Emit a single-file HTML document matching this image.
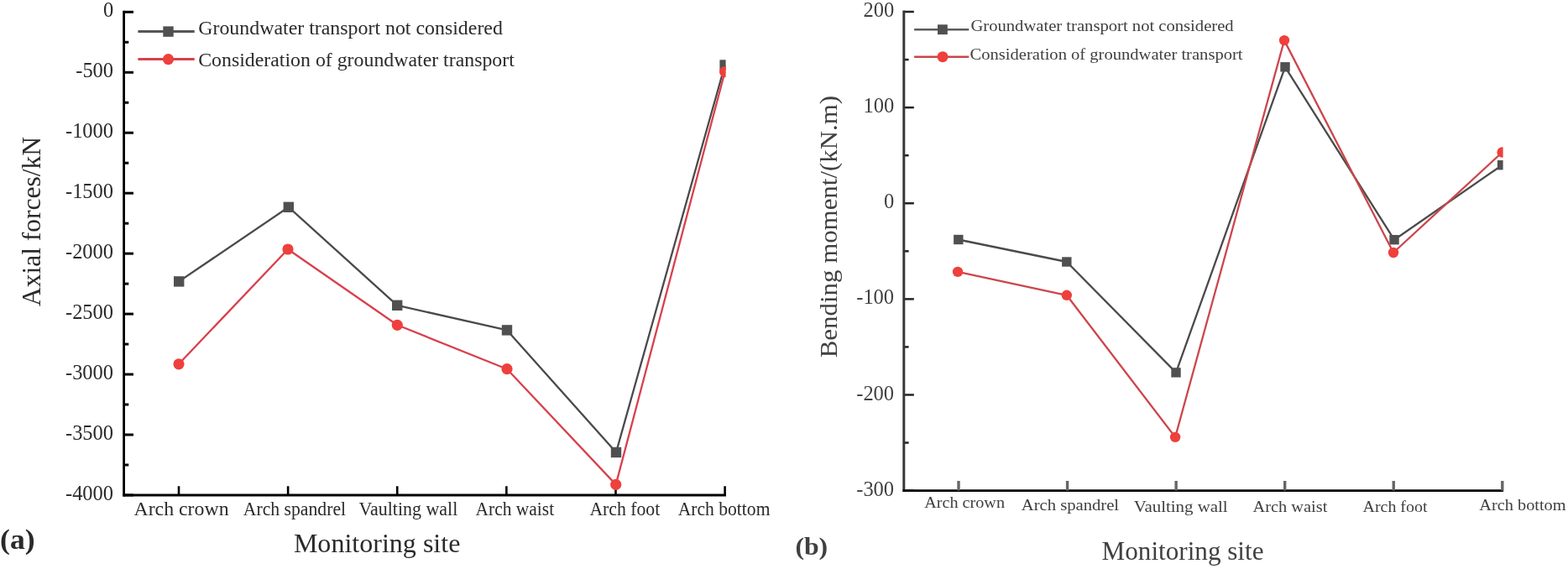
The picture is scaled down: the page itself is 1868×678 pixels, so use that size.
<!DOCTYPE html>
<html><head><meta charset="utf-8"><title>Axial forces and bending moment</title>
<style>html,body{margin:0;padding:0;background:#fff;}svg{display:block;filter:blur(0.55px);}</style></head>
<body><svg width="1868" height="678" viewBox="0 0 1868 678" font-family='"Liberation Serif","Times New Roman",serif'>
<rect width="1868" height="678" fill="#fff"/>
<line x1="147.60" y1="14.30" x2="159.00" y2="14.30" stroke="#000" stroke-width="3" stroke-linecap="butt"/>
<text x="122.88" y="20.32" font-size="24.5" fill="#2a2a2a" textLength="12.25" lengthAdjust="spacingAndGlyphs">0</text>
<line x1="147.60" y1="50.28" x2="153.30" y2="50.28" stroke="#000" stroke-width="3" stroke-linecap="butt"/>
<line x1="147.60" y1="86.26" x2="159.00" y2="86.26" stroke="#000" stroke-width="3" stroke-linecap="butt"/>
<text x="90.22" y="92.28" font-size="24.5" fill="#2a2a2a" textLength="44.91" lengthAdjust="spacingAndGlyphs">-500</text>
<line x1="147.60" y1="122.24" x2="153.30" y2="122.24" stroke="#000" stroke-width="3" stroke-linecap="butt"/>
<line x1="147.60" y1="158.22" x2="159.00" y2="158.22" stroke="#000" stroke-width="3" stroke-linecap="butt"/>
<text x="77.97" y="164.24" font-size="24.5" fill="#2a2a2a" textLength="57.16" lengthAdjust="spacingAndGlyphs">-1000</text>
<line x1="147.60" y1="194.20" x2="153.30" y2="194.20" stroke="#000" stroke-width="3" stroke-linecap="butt"/>
<line x1="147.60" y1="230.18" x2="159.00" y2="230.18" stroke="#000" stroke-width="3" stroke-linecap="butt"/>
<text x="77.97" y="236.20" font-size="24.5" fill="#2a2a2a" textLength="57.16" lengthAdjust="spacingAndGlyphs">-1500</text>
<line x1="147.60" y1="266.16" x2="153.30" y2="266.16" stroke="#000" stroke-width="3" stroke-linecap="butt"/>
<line x1="147.60" y1="302.14" x2="159.00" y2="302.14" stroke="#000" stroke-width="3" stroke-linecap="butt"/>
<text x="77.97" y="308.16" font-size="24.5" fill="#2a2a2a" textLength="57.16" lengthAdjust="spacingAndGlyphs">-2000</text>
<line x1="147.60" y1="338.12" x2="153.30" y2="338.12" stroke="#000" stroke-width="3" stroke-linecap="butt"/>
<line x1="147.60" y1="374.10" x2="159.00" y2="374.10" stroke="#000" stroke-width="3" stroke-linecap="butt"/>
<text x="77.97" y="380.12" font-size="24.5" fill="#2a2a2a" textLength="57.16" lengthAdjust="spacingAndGlyphs">-2500</text>
<line x1="147.60" y1="410.08" x2="153.30" y2="410.08" stroke="#000" stroke-width="3" stroke-linecap="butt"/>
<line x1="147.60" y1="446.06" x2="159.00" y2="446.06" stroke="#000" stroke-width="3" stroke-linecap="butt"/>
<text x="77.97" y="452.08" font-size="24.5" fill="#2a2a2a" textLength="57.16" lengthAdjust="spacingAndGlyphs">-3000</text>
<line x1="147.60" y1="482.04" x2="153.30" y2="482.04" stroke="#000" stroke-width="3" stroke-linecap="butt"/>
<line x1="147.60" y1="518.02" x2="159.00" y2="518.02" stroke="#000" stroke-width="3" stroke-linecap="butt"/>
<text x="77.97" y="524.04" font-size="24.5" fill="#2a2a2a" textLength="57.16" lengthAdjust="spacingAndGlyphs">-3500</text>
<line x1="147.60" y1="554.00" x2="153.30" y2="554.00" stroke="#000" stroke-width="3" stroke-linecap="butt"/>
<line x1="147.60" y1="589.98" x2="159.00" y2="589.98" stroke="#000" stroke-width="3" stroke-linecap="butt"/>
<text x="77.97" y="596.00" font-size="24.5" fill="#2a2a2a" textLength="57.16" lengthAdjust="spacingAndGlyphs">-4000</text>
<line x1="147.60" y1="12.80" x2="147.60" y2="591.50" stroke="#000" stroke-width="2.8" stroke-linecap="butt"/>
<line x1="146.20" y1="590.00" x2="865.00" y2="590.00" stroke="#000" stroke-width="3" stroke-linecap="butt"/>
<line x1="213.00" y1="579.30" x2="213.00" y2="590.00" stroke="#000" stroke-width="2.6" stroke-linecap="butt"/>
<line x1="343.12" y1="579.30" x2="343.12" y2="590.00" stroke="#000" stroke-width="2.6" stroke-linecap="butt"/>
<line x1="473.24" y1="579.30" x2="473.24" y2="590.00" stroke="#000" stroke-width="2.6" stroke-linecap="butt"/>
<line x1="603.36" y1="579.30" x2="603.36" y2="590.00" stroke="#000" stroke-width="2.6" stroke-linecap="butt"/>
<line x1="733.48" y1="579.30" x2="733.48" y2="590.00" stroke="#000" stroke-width="2.6" stroke-linecap="butt"/>
<line x1="863.60" y1="579.30" x2="863.60" y2="590.00" stroke="#000" stroke-width="2.6" stroke-linecap="butt"/>
<text x="159.47" y="614.30" font-size="24" fill="#2a2a2a" textLength="113.09" lengthAdjust="spacingAndGlyphs">Arch crown</text>
<text x="289.79" y="614.30" font-size="24" fill="#2a2a2a" textLength="122.25" lengthAdjust="spacingAndGlyphs">Arch spandrel</text>
<text x="427.56" y="614.30" font-size="24" fill="#2a2a2a" textLength="117.77" lengthAdjust="spacingAndGlyphs">Vaulting wall</text>
<text x="566.59" y="614.30" font-size="24" fill="#2a2a2a" textLength="93.54" lengthAdjust="spacingAndGlyphs">Arch waist</text>
<text x="702.39" y="614.30" font-size="24" fill="#2a2a2a" textLength="83.84" lengthAdjust="spacingAndGlyphs">Arch foot</text>
<text x="807.79" y="614.30" font-size="24" fill="#2a2a2a" textLength="109.65" lengthAdjust="spacingAndGlyphs">Arch bottom</text>
<text x="349.88" y="658.20" font-size="32" fill="#2a2a2a" textLength="198.53" lengthAdjust="spacingAndGlyphs">Monitoring site</text>
<text x="0.13" y="653.90" font-size="33" font-weight="bold" fill="#2a2a2a" textLength="41.64" lengthAdjust="spacingAndGlyphs">(a)</text>
<text transform="translate(48.00,365.11) rotate(-90)" x="0" y="0" font-size="32" fill="#2a2a2a" textLength="202.23" lengthAdjust="spacingAndGlyphs">Axial forces/kN</text>
<line x1="164.40" y1="37.40" x2="231.70" y2="37.40" stroke="#555" stroke-width="3" stroke-linecap="butt"/>
<rect x="194.30" y="31.40" width="12.4" height="12.4" fill="#505050"/>
<line x1="164.40" y1="70.50" x2="231.70" y2="70.50" stroke="#d8404c" stroke-width="3" stroke-linecap="butt"/>
<circle cx="200.5" cy="70.6" r="6.6" fill="#ee403c"/>
<text x="236.22" y="41.10" font-size="22.6" fill="#2a2a2a" textLength="362.67" lengthAdjust="spacingAndGlyphs">Groundwater transport not considered</text>
<text x="236.22" y="79.10" font-size="22.6" fill="#2a2a2a" textLength="376.62" lengthAdjust="spacingAndGlyphs">Consideration of groundwater transport</text>
<clipPath id="cl"><rect x="0" y="0" width="864.6" height="678"/></clipPath>
<g clip-path="url(#cl)">
<polyline points="213.2,335.4 343.8,246.8 473.2,363.8 604.0,393.4 734.0,539.0 863.6,77.5" fill="none" stroke="#4a4a4a" stroke-width="2.3" stroke-linejoin="round"/>
<rect x="207.00" y="329.20" width="12.4" height="12.4" fill="#505050"/>
<rect x="337.60" y="240.60" width="12.4" height="12.4" fill="#505050"/>
<rect x="467.00" y="357.60" width="12.4" height="12.4" fill="#505050"/>
<rect x="597.80" y="387.20" width="12.4" height="12.4" fill="#505050"/>
<rect x="727.80" y="532.80" width="12.4" height="12.4" fill="#505050"/>
<rect x="857.40" y="71.30" width="12.4" height="12.4" fill="#505050"/>
<polyline points="213.0,433.8 343.0,297.0 473.3,387.3 604.0,439.7 733.7,577.4 863.6,85.5" fill="none" stroke="#d8404c" stroke-width="2.3" stroke-linejoin="round"/>
<circle cx="213.0" cy="433.8" r="6.6" fill="#ee403c"/>
<circle cx="343.0" cy="297.0" r="6.6" fill="#ee403c"/>
<circle cx="473.3" cy="387.3" r="6.6" fill="#ee403c"/>
<circle cx="604.0" cy="439.7" r="6.6" fill="#ee403c"/>
<circle cx="733.7" cy="577.4" r="6.6" fill="#ee403c"/>
<circle cx="863.6" cy="85.5" r="6.6" fill="#ee403c"/>
</g>
<line x1="1076.80" y1="14.00" x2="1088.80" y2="14.00" stroke="#222" stroke-width="2.5" stroke-linecap="butt"/>
<text x="1028.38" y="20.12" font-size="24.5" fill="#404040" textLength="36.75" lengthAdjust="spacingAndGlyphs">200</text>
<line x1="1076.80" y1="71.06" x2="1082.60" y2="71.06" stroke="#222" stroke-width="2.5" stroke-linecap="butt"/>
<line x1="1076.80" y1="128.12" x2="1088.80" y2="128.12" stroke="#222" stroke-width="2.5" stroke-linecap="butt"/>
<text x="1028.38" y="134.24" font-size="24.5" fill="#404040" textLength="36.75" lengthAdjust="spacingAndGlyphs">100</text>
<line x1="1076.80" y1="185.18" x2="1082.60" y2="185.18" stroke="#222" stroke-width="2.5" stroke-linecap="butt"/>
<line x1="1076.80" y1="242.24" x2="1088.80" y2="242.24" stroke="#222" stroke-width="2.5" stroke-linecap="butt"/>
<text x="1052.88" y="248.36" font-size="24.5" fill="#404040" textLength="12.25" lengthAdjust="spacingAndGlyphs">0</text>
<line x1="1076.80" y1="299.30" x2="1082.60" y2="299.30" stroke="#222" stroke-width="2.5" stroke-linecap="butt"/>
<line x1="1076.80" y1="356.36" x2="1088.80" y2="356.36" stroke="#222" stroke-width="2.5" stroke-linecap="butt"/>
<text x="1020.22" y="362.48" font-size="24.5" fill="#404040" textLength="44.91" lengthAdjust="spacingAndGlyphs">-100</text>
<line x1="1076.80" y1="413.42" x2="1082.60" y2="413.42" stroke="#222" stroke-width="2.5" stroke-linecap="butt"/>
<line x1="1076.80" y1="470.48" x2="1088.80" y2="470.48" stroke="#222" stroke-width="2.5" stroke-linecap="butt"/>
<text x="1020.22" y="476.60" font-size="24.5" fill="#404040" textLength="44.91" lengthAdjust="spacingAndGlyphs">-200</text>
<line x1="1076.80" y1="527.54" x2="1082.60" y2="527.54" stroke="#222" stroke-width="2.5" stroke-linecap="butt"/>
<line x1="1076.80" y1="584.60" x2="1088.80" y2="584.60" stroke="#222" stroke-width="2.5" stroke-linecap="butt"/>
<text x="1020.22" y="590.72" font-size="24.5" fill="#404040" textLength="44.91" lengthAdjust="spacingAndGlyphs">-300</text>
<line x1="1076.80" y1="12.40" x2="1076.80" y2="585.90" stroke="#383838" stroke-width="3.0" stroke-linecap="butt"/>
<line x1="1075.50" y1="584.60" x2="1791.00" y2="584.60" stroke="#000" stroke-width="2.7" stroke-linecap="butt"/>
<line x1="1142.00" y1="573.00" x2="1142.00" y2="584.60" stroke="#666" stroke-width="3.4" stroke-linecap="butt"/>
<line x1="1271.56" y1="573.00" x2="1271.56" y2="584.60" stroke="#666" stroke-width="3.4" stroke-linecap="butt"/>
<line x1="1401.12" y1="573.00" x2="1401.12" y2="584.60" stroke="#666" stroke-width="3.4" stroke-linecap="butt"/>
<line x1="1530.68" y1="573.00" x2="1530.68" y2="584.60" stroke="#666" stroke-width="3.4" stroke-linecap="butt"/>
<line x1="1660.24" y1="573.00" x2="1660.24" y2="584.60" stroke="#666" stroke-width="3.4" stroke-linecap="butt"/>
<line x1="1789.80" y1="573.00" x2="1789.80" y2="584.60" stroke="#666" stroke-width="3.4" stroke-linecap="butt"/>
<text x="1101.20" y="605.00" font-size="19.5" fill="#404040" textLength="95.80" lengthAdjust="spacingAndGlyphs">Arch crown</text>
<text x="1216.80" y="608.00" font-size="19.5" fill="#404040" textLength="116.31" lengthAdjust="spacingAndGlyphs">Arch spandrel</text>
<text x="1350.67" y="610.20" font-size="19.5" fill="#404040" textLength="111.94" lengthAdjust="spacingAndGlyphs">Vaulting wall</text>
<text x="1492.60" y="610.40" font-size="19.5" fill="#404040" textLength="88.72" lengthAdjust="spacingAndGlyphs">Arch waist</text>
<text x="1623.61" y="609.60" font-size="19.5" fill="#404040" textLength="76.81" lengthAdjust="spacingAndGlyphs">Arch foot</text>
<text x="1762.30" y="608.30" font-size="19.5" fill="#404040" textLength="103.22" lengthAdjust="spacingAndGlyphs">Arch bottom</text>
<text x="1312.60" y="666.80" font-size="31.5" fill="#404040" textLength="192.88" lengthAdjust="spacingAndGlyphs">Monitoring site</text>
<text x="947.41" y="661.30" font-size="29.5" font-weight="bold" fill="#404040" textLength="38.79" lengthAdjust="spacingAndGlyphs">(b)</text>
<text transform="translate(996.80,426.29) rotate(-90)" x="0" y="0" font-size="30" fill="#404040" textLength="312.35" lengthAdjust="spacingAndGlyphs">Bending moment/(kN.m)</text>
<line x1="1089.10" y1="35.20" x2="1154.30" y2="35.20" stroke="#5c5c5c" stroke-width="2.6" stroke-linecap="butt"/>
<rect x="1117.00" y="29.30" width="11.8" height="11.8" fill="#505050"/>
<line x1="1089.10" y1="67.80" x2="1154.30" y2="67.80" stroke="#c8464c" stroke-width="2.6" stroke-linecap="butt"/>
<circle cx="1123" cy="67.7" r="6.5" fill="#ee403c"/>
<text x="1156.45" y="37.00" font-size="19" fill="#404040" textLength="313.20" lengthAdjust="spacingAndGlyphs">Groundwater transport not considered</text>
<text x="1155.56" y="71.20" font-size="19" fill="#404040" textLength="324.96" lengthAdjust="spacingAndGlyphs">Consideration of groundwater transport</text>
<clipPath id="cr"><rect x="900" y="0" width="890.6" height="678"/></clipPath>
<g clip-path="url(#cr)">
<polyline points="1141.8,285.5 1270.8,312.0 1401.0,443.9 1531.0,79.8 1661.0,285.7 1789.6,196.7" fill="none" stroke="#4a4a4a" stroke-width="2.3" stroke-linejoin="round"/>
<rect x="1136.10" y="279.80" width="11.4" height="11.4" fill="#505050"/>
<rect x="1265.10" y="306.30" width="11.4" height="11.4" fill="#505050"/>
<rect x="1395.30" y="438.20" width="11.4" height="11.4" fill="#505050"/>
<rect x="1525.30" y="74.10" width="11.4" height="11.4" fill="#505050"/>
<rect x="1655.30" y="280.00" width="11.4" height="11.4" fill="#505050"/>
<rect x="1783.90" y="191.00" width="11.4" height="11.4" fill="#505050"/>
<polyline points="1141.0,323.9 1270.8,351.8 1400.1,520.9 1530.0,48.1 1660.0,301.0 1789.6,181.5" fill="none" stroke="#cc464c" stroke-width="2.3" stroke-linejoin="round"/>
<circle cx="1141.0" cy="323.9" r="6.2" fill="#ee403c"/>
<circle cx="1270.8" cy="351.8" r="6.2" fill="#ee403c"/>
<circle cx="1400.1" cy="520.9" r="6.2" fill="#ee403c"/>
<circle cx="1530.0" cy="48.1" r="6.2" fill="#ee403c"/>
<circle cx="1660.0" cy="301.0" r="6.2" fill="#ee403c"/>
<circle cx="1789.6" cy="181.5" r="6.2" fill="#ee403c"/>
</g>
</svg></body></html>
